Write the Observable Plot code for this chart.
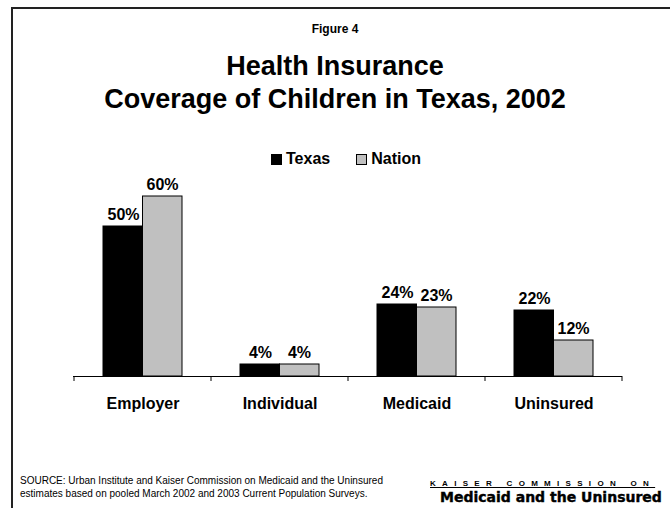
<!DOCTYPE html>
<html>
<head>
<meta charset="utf-8">
<script src="https://cdn.jsdelivr.net/npm/d3@7"></script>
<script src="https://cdn.jsdelivr.net/npm/@observablehq/plot@0.6"></script>
<style>
  html, body { margin: 0; padding: 0; background: #fff; }
  #wrap { position: relative; width: 670px; height: 508px; overflow: hidden; background: #fff;
          font-family: "Liberation Sans", Arial, sans-serif; color: #000; }
  #frame { position: absolute; left: 11px; top: 7px; width: 700px; height: 600px;
           border-left: 2px solid #222; border-top: 2px solid #222; }
  .t { position: absolute; left: 0; width: 670px; text-align: center; font-weight: bold; white-space: nowrap; }
  #fig { top: 22px; font-size: 12px; }
  #title { top: 50px; font-size: 27px; line-height: 33px; }
  #legend { position: absolute; top: 150px; left: 271px; font-size: 16px; font-weight: bold; white-space: nowrap; }
  #legend span.sw { display: inline-block; width: 11px; height: 11px; border: 1px solid #000; box-sizing: border-box; vertical-align: -1px; margin-right: 4px; }
  #legend span.item { margin-right: 26px; }
  #chart { position: absolute; left: 0; top: 150px; }
  #source { position: absolute; left: 20px; top: 474px; font-size: 10px; line-height: 13px; white-space: nowrap; }
  #kff1 { position: absolute; left: 430px; top: 479px; font-size: 8px; font-weight: bold; letter-spacing: 6.3px; text-decoration: underline; white-space: nowrap; }
  #kff2 { position: absolute; left: 440px; top: 489px; font-family: "DejaVu Sans", sans-serif; font-size: 14px; font-weight: 900; letter-spacing: 0px; -webkit-text-stroke: 0.4px #000; white-space: nowrap; }
</style>
</head>
<body>
<div id="wrap">
  <div id="frame"></div>
  <div class="t" id="fig">Figure 4</div>
  <div class="t" id="title">Health Insurance<br>Coverage of Children in Texas, 2002</div>
  <div id="legend"></div>
  <div id="chart"></div>
  <div id="source">SOURCE: Urban Institute and Kaiser Commission on Medicaid and the Uninsured<br>estimates based on pooled March 2002 and 2003 Current Population Surveys.</div>
  <div id="kff1">KAISER COMMISSION ON</div>
  <div id="kff2">Medicaid and the Uninsured</div>
</div>
<script>
const categories = ["Employer", "Individual", "Medicaid", "Uninsured"];
const series = ["Texas", "Nation"];
const texasValues = [50, 4, 24, 22];
const nationValues = [60, 4, 23, 12];
const seriesColors = ["#000000", "#c0c0c0"];

const data = [];
categories.forEach((c, i) => {
  data.push({category: c, series: "Texas", value: texasValues[i]});
  data.push({category: c, series: "Nation", value: nationValues[i]});
});

// legend
const legend = document.getElementById("legend");
series.forEach((s, i) => {
  const item = document.createElement("span");
  item.className = "item";
  item.innerHTML = `<span class="sw" style="background:${seriesColors[i]}"></span>${s}`;
  legend.appendChild(item);
});

const texas = data.filter(d => d.series === "Texas");
const nation = data.filter(d => d.series === "Nation");

// Boundary ticks under the category axis, placed with the x band scale
function boundaryTicks(index, scales, values, dimensions) {
  const x = scales.x, y = scales.y;
  let bw = x.bandwidth;
  if (typeof bw === "function") bw = bw();
  if (!(bw > 0)) bw = (dimensions.width - dimensions.marginLeft - dimensions.marginRight) / categories.length;
  const y0 = y(0);
  const g = d3.create("svg:g").attr("stroke", "#000").attr("stroke-width", 1);
  const edges = categories.map(c => x(c)).concat([x(categories[categories.length - 1]) + bw]);
  edges.forEach(px => {
    g.append("line").attr("x1", px).attr("x2", px).attr("y1", y0).attr("y2", y0 + 5);
  });
  return g.node();
}

const chart = Plot.plot({
  width: 670,
  height: 276,
  marginTop: 46,
  marginBottom: 50,
  marginLeft: 73,
  marginRight: 48,
  style: {background: "transparent", fontFamily: "Liberation Sans, Arial, sans-serif", color: "#000"},
  x: {domain: categories, paddingInner: 0, paddingOuter: 0, axis: null},
  y: {domain: [0, 60], axis: null},
  marks: [
    Plot.barY(texas, {x: "category", y: "value", fill: seriesColors[0], stroke: "#000", strokeWidth: 1, insetLeft: 29, insetRight: 68.5}),
    Plot.barY(nation, {x: "category", y: "value", fill: seriesColors[1], stroke: "#000", strokeWidth: 1, insetLeft: 68.5, insetRight: 29}),
    Plot.text(texas, {x: "category", y: "value", text: d => d.value + "%", dx: -19.5, dy: -7, lineAnchor: "bottom", fontSize: 16, fontWeight: "bold", fill: "#000"}),
    Plot.text(nation, {x: "category", y: "value", text: d => d.value + "%", dx: 19.5, dy: -7, lineAnchor: "bottom", fontSize: 16, fontWeight: "bold", fill: "#000"}),
    Plot.ruleY([0], {stroke: "#000", strokeWidth: 1}),
    boundaryTicks,
    Plot.axisX({tickSize: 0, tickPadding: 21, fontSize: 16, fontWeight: "bold", fill: "#000", label: null})
  ]
});
document.getElementById("chart").appendChild(chart);
</script>
</body>
</html>
